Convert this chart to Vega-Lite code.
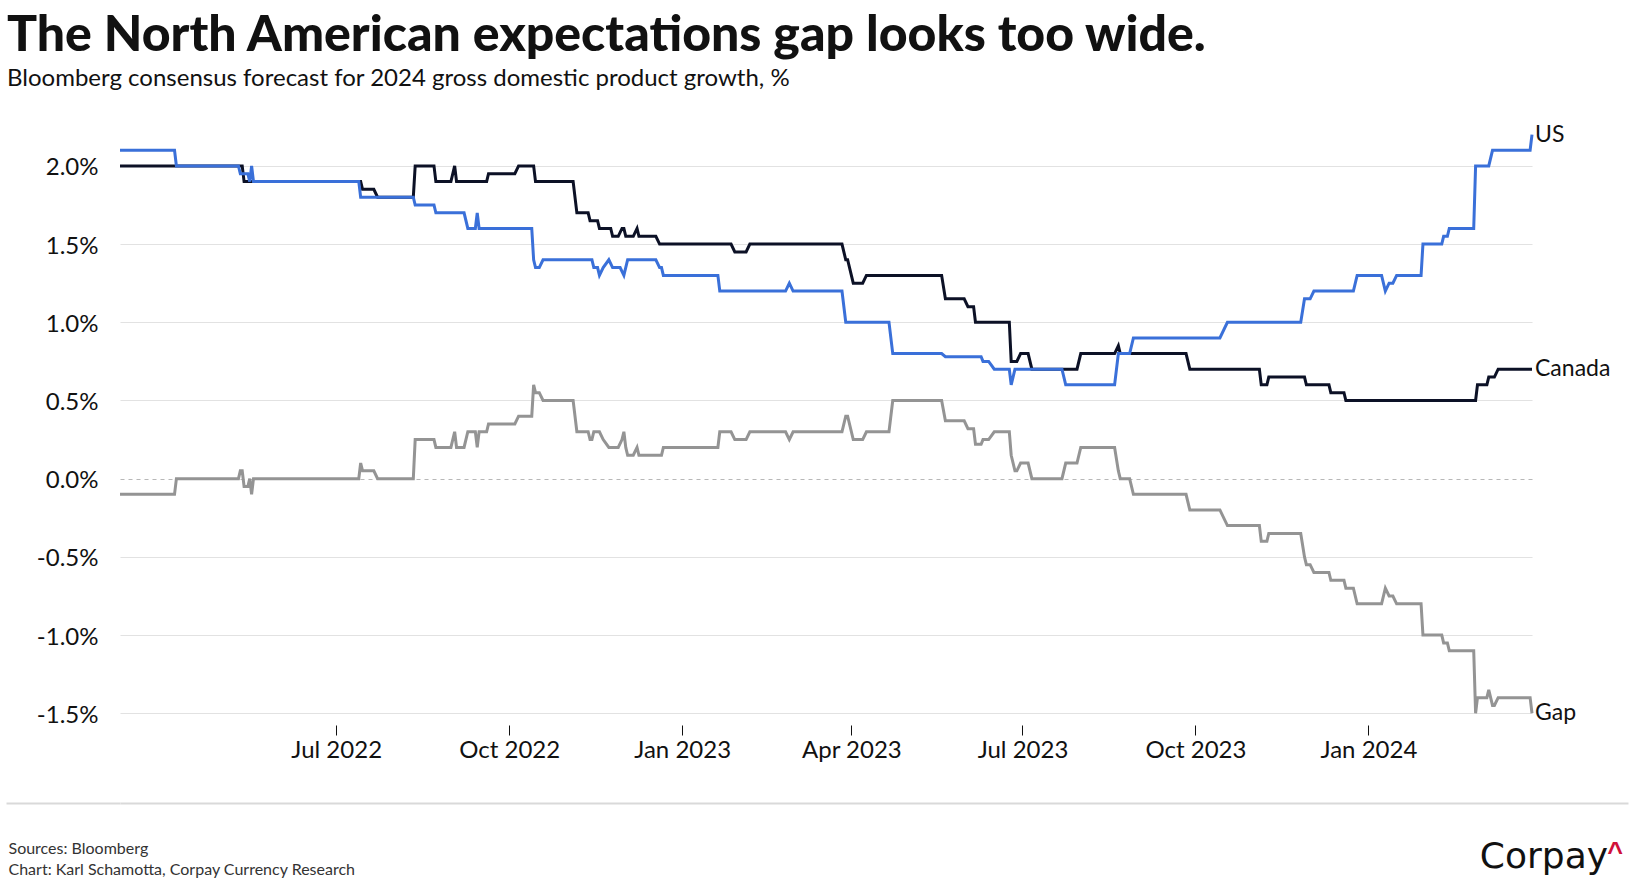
{
  "$schema": "https://vega.github.io/schema/vega-lite/v6.json",
  "padding": {"left": 5, "top": 11, "right": 3, "bottom": 8},
  "spacing": 40,
  "title": {
    "text": "The North American expectations gap looks too wide.",
    "subtitle": "Bloomberg consensus forecast for 2024 gross domestic product growth, %",
    "anchor": "start",
    "font": "Lato",
    "fontSize": 50,
    "fontWeight": 900,
    "color": "#111111",
    "subtitleFont": "Lato",
    "subtitleFontSize": 24,
    "subtitleColor": "#111111",
    "subtitlePadding": 6,
    "offset": 28,
    "dx": 2
  },
  "vconcat": [
    {
      "width": 1412,
      "height": 606,
      "data": {"values": [
        {"date":"2022-03-08","series":"Gap","value":-0.1},{"date":"2022-04-06","series":"Gap","value":-0.1},{"date":"2022-04-07","series":"Gap","value":0},{"date":"2022-05-10","series":"Gap","value":0},{"date":"2022-05-11","series":"Gap","value":0.05},{"date":"2022-05-12","series":"Gap","value":0.05},{"date":"2022-05-13","series":"Gap","value":-0.05},{"date":"2022-05-15","series":"Gap","value":-0.05},{"date":"2022-05-16","series":"Gap","value":0},{"date":"2022-05-17","series":"Gap","value":-0.1},{"date":"2022-05-18","series":"Gap","value":0},{"date":"2022-07-13","series":"Gap","value":0},{"date":"2022-07-14","series":"Gap","value":0.1},{"date":"2022-07-15","series":"Gap","value":0.05},{"date":"2022-07-21","series":"Gap","value":0.05},{"date":"2022-07-23","series":"Gap","value":0},{"date":"2022-08-11","series":"Gap","value":0},{"date":"2022-08-12","series":"Gap","value":0.25},{"date":"2022-08-22","series":"Gap","value":0.25},{"date":"2022-08-23","series":"Gap","value":0.2},{"date":"2022-08-31","series":"Gap","value":0.2},{"date":"2022-09-02","series":"Gap","value":0.3},{"date":"2022-09-03","series":"Gap","value":0.2},{"date":"2022-09-07","series":"Gap","value":0.2},{"date":"2022-09-09","series":"Gap","value":0.3},{"date":"2022-09-13","series":"Gap","value":0.3},{"date":"2022-09-14","series":"Gap","value":0.2},{"date":"2022-09-15","series":"Gap","value":0.3},{"date":"2022-09-19","series":"Gap","value":0.3},{"date":"2022-09-20","series":"Gap","value":0.35},{"date":"2022-10-04","series":"Gap","value":0.35},{"date":"2022-10-06","series":"Gap","value":0.4},{"date":"2022-10-13","series":"Gap","value":0.4},{"date":"2022-10-14","series":"Gap","value":0.6},{"date":"2022-10-15","series":"Gap","value":0.55},{"date":"2022-10-17","series":"Gap","value":0.55},{"date":"2022-10-19","series":"Gap","value":0.5},{"date":"2022-11-04","series":"Gap","value":0.5},{"date":"2022-11-06","series":"Gap","value":0.3},{"date":"2022-11-12","series":"Gap","value":0.3},{"date":"2022-11-13","series":"Gap","value":0.25},{"date":"2022-11-14","series":"Gap","value":0.25},{"date":"2022-11-15","series":"Gap","value":0.3},{"date":"2022-11-18","series":"Gap","value":0.3},{"date":"2022-11-20","series":"Gap","value":0.25},{"date":"2022-11-23","series":"Gap","value":0.2},{"date":"2022-11-28","series":"Gap","value":0.2},{"date":"2022-11-30","series":"Gap","value":0.25},{"date":"2022-12-01","series":"Gap","value":0.3},{"date":"2022-12-02","series":"Gap","value":0.2},{"date":"2022-12-03","series":"Gap","value":0.15},{"date":"2022-12-06","series":"Gap","value":0.15},{"date":"2022-12-08","series":"Gap","value":0.2},{"date":"2022-12-09","series":"Gap","value":0.15},{"date":"2022-12-21","series":"Gap","value":0.15},{"date":"2022-12-22","series":"Gap","value":0.2},{"date":"2023-01-20","series":"Gap","value":0.2},{"date":"2023-01-21","series":"Gap","value":0.3},{"date":"2023-01-27","series":"Gap","value":0.3},{"date":"2023-01-29","series":"Gap","value":0.25},{"date":"2023-02-04","series":"Gap","value":0.25},{"date":"2023-02-06","series":"Gap","value":0.3},{"date":"2023-02-25","series":"Gap","value":0.3},{"date":"2023-02-27","series":"Gap","value":0.25},{"date":"2023-03-01","series":"Gap","value":0.3},{"date":"2023-03-27","series":"Gap","value":0.3},{"date":"2023-03-29","series":"Gap","value":0.4},{"date":"2023-03-30","series":"Gap","value":0.4},{"date":"2023-04-02","series":"Gap","value":0.25},{"date":"2023-04-07","series":"Gap","value":0.25},{"date":"2023-04-09","series":"Gap","value":0.3},{"date":"2023-04-21","series":"Gap","value":0.3},{"date":"2023-04-23","series":"Gap","value":0.5},{"date":"2023-05-19","series":"Gap","value":0.5},{"date":"2023-05-21","series":"Gap","value":0.37},{"date":"2023-05-31","series":"Gap","value":0.37},{"date":"2023-06-02","series":"Gap","value":0.32},{"date":"2023-06-05","series":"Gap","value":0.32},{"date":"2023-06-06","series":"Gap","value":0.22},{"date":"2023-06-09","series":"Gap","value":0.22},{"date":"2023-06-10","series":"Gap","value":0.25},{"date":"2023-06-13","series":"Gap","value":0.25},{"date":"2023-06-16","series":"Gap","value":0.3},{"date":"2023-06-24","series":"Gap","value":0.3},{"date":"2023-06-25","series":"Gap","value":0.15},{"date":"2023-06-27","series":"Gap","value":0.05},{"date":"2023-06-28","series":"Gap","value":0.05},{"date":"2023-06-30","series":"Gap","value":0.1},{"date":"2023-07-04","series":"Gap","value":0.1},{"date":"2023-07-06","series":"Gap","value":0},{"date":"2023-07-22","series":"Gap","value":0},{"date":"2023-07-24","series":"Gap","value":0.1},{"date":"2023-07-30","series":"Gap","value":0.1},{"date":"2023-08-01","series":"Gap","value":0.2},{"date":"2023-08-19","series":"Gap","value":0.2},{"date":"2023-08-21","series":"Gap","value":0.05},{"date":"2023-08-22","series":"Gap","value":0},{"date":"2023-08-27","series":"Gap","value":0},{"date":"2023-08-29","series":"Gap","value":-0.1},{"date":"2023-09-26","series":"Gap","value":-0.1},{"date":"2023-09-28","series":"Gap","value":-0.2},{"date":"2023-10-14","series":"Gap","value":-0.2},{"date":"2023-10-18","series":"Gap","value":-0.3},{"date":"2023-11-04","series":"Gap","value":-0.3},{"date":"2023-11-05","series":"Gap","value":-0.4},{"date":"2023-11-08","series":"Gap","value":-0.4},{"date":"2023-11-09","series":"Gap","value":-0.35},{"date":"2023-11-26","series":"Gap","value":-0.35},{"date":"2023-11-28","series":"Gap","value":-0.5},{"date":"2023-11-29","series":"Gap","value":-0.55},{"date":"2023-12-01","series":"Gap","value":-0.55},{"date":"2023-12-03","series":"Gap","value":-0.6},{"date":"2023-12-11","series":"Gap","value":-0.6},{"date":"2023-12-12","series":"Gap","value":-0.65},{"date":"2023-12-19","series":"Gap","value":-0.65},{"date":"2023-12-20","series":"Gap","value":-0.7},{"date":"2023-12-24","series":"Gap","value":-0.7},{"date":"2023-12-26","series":"Gap","value":-0.8},{"date":"2024-01-08","series":"Gap","value":-0.8},{"date":"2024-01-10","series":"Gap","value":-0.7},{"date":"2024-01-12","series":"Gap","value":-0.75},{"date":"2024-01-14","series":"Gap","value":-0.75},{"date":"2024-01-16","series":"Gap","value":-0.8},{"date":"2024-01-29","series":"Gap","value":-0.8},{"date":"2024-01-30","series":"Gap","value":-1.0},{"date":"2024-02-09","series":"Gap","value":-1.0},{"date":"2024-02-10","series":"Gap","value":-1.05},{"date":"2024-02-12","series":"Gap","value":-1.05},{"date":"2024-02-13","series":"Gap","value":-1.1},{"date":"2024-02-26","series":"Gap","value":-1.1},{"date":"2024-02-27","series":"Gap","value":-1.5},{"date":"2024-02-28","series":"Gap","value":-1.4},{"date":"2024-03-04","series":"Gap","value":-1.4},{"date":"2024-03-05","series":"Gap","value":-1.35},{"date":"2024-03-06","series":"Gap","value":-1.4},{"date":"2024-03-07","series":"Gap","value":-1.45},{"date":"2024-03-08","series":"Gap","value":-1.45},{"date":"2024-03-10","series":"Gap","value":-1.4},{"date":"2024-03-27","series":"Gap","value":-1.4},{"date":"2024-03-28","series":"Gap","value":-1.5},
        {"date":"2022-03-08","series":"Canada","value":2.0},{"date":"2022-05-12","series":"Canada","value":2.0},{"date":"2022-05-13","series":"Canada","value":1.9},{"date":"2022-07-14","series":"Canada","value":1.9},{"date":"2022-07-15","series":"Canada","value":1.85},{"date":"2022-07-21","series":"Canada","value":1.85},{"date":"2022-07-23","series":"Canada","value":1.8},{"date":"2022-08-11","series":"Canada","value":1.8},{"date":"2022-08-12","series":"Canada","value":2.0},{"date":"2022-08-22","series":"Canada","value":2.0},{"date":"2022-08-23","series":"Canada","value":1.9},{"date":"2022-08-31","series":"Canada","value":1.9},{"date":"2022-09-02","series":"Canada","value":2.0},{"date":"2022-09-03","series":"Canada","value":1.9},{"date":"2022-09-19","series":"Canada","value":1.9},{"date":"2022-09-20","series":"Canada","value":1.95},{"date":"2022-10-04","series":"Canada","value":1.95},{"date":"2022-10-06","series":"Canada","value":2.0},{"date":"2022-10-14","series":"Canada","value":2.0},{"date":"2022-10-15","series":"Canada","value":1.9},{"date":"2022-11-04","series":"Canada","value":1.9},{"date":"2022-11-06","series":"Canada","value":1.7},{"date":"2022-11-12","series":"Canada","value":1.7},{"date":"2022-11-13","series":"Canada","value":1.65},{"date":"2022-11-17","series":"Canada","value":1.65},{"date":"2022-11-18","series":"Canada","value":1.6},{"date":"2022-11-24","series":"Canada","value":1.6},{"date":"2022-11-25","series":"Canada","value":1.55},{"date":"2022-11-28","series":"Canada","value":1.55},{"date":"2022-11-30","series":"Canada","value":1.6},{"date":"2022-12-01","series":"Canada","value":1.6},{"date":"2022-12-02","series":"Canada","value":1.55},{"date":"2022-12-06","series":"Canada","value":1.55},{"date":"2022-12-08","series":"Canada","value":1.6},{"date":"2022-12-09","series":"Canada","value":1.55},{"date":"2022-12-18","series":"Canada","value":1.55},{"date":"2022-12-20","series":"Canada","value":1.5},{"date":"2023-01-27","series":"Canada","value":1.5},{"date":"2023-01-29","series":"Canada","value":1.45},{"date":"2023-02-04","series":"Canada","value":1.45},{"date":"2023-02-06","series":"Canada","value":1.5},{"date":"2023-03-27","series":"Canada","value":1.5},{"date":"2023-03-29","series":"Canada","value":1.4},{"date":"2023-03-30","series":"Canada","value":1.4},{"date":"2023-04-02","series":"Canada","value":1.25},{"date":"2023-04-07","series":"Canada","value":1.25},{"date":"2023-04-09","series":"Canada","value":1.3},{"date":"2023-05-19","series":"Canada","value":1.3},{"date":"2023-05-21","series":"Canada","value":1.15},{"date":"2023-05-31","series":"Canada","value":1.15},{"date":"2023-06-02","series":"Canada","value":1.1},{"date":"2023-06-05","series":"Canada","value":1.1},{"date":"2023-06-06","series":"Canada","value":1.0},{"date":"2023-06-24","series":"Canada","value":1.0},{"date":"2023-06-25","series":"Canada","value":0.75},{"date":"2023-06-28","series":"Canada","value":0.75},{"date":"2023-06-30","series":"Canada","value":0.8},{"date":"2023-07-04","series":"Canada","value":0.8},{"date":"2023-07-06","series":"Canada","value":0.7},{"date":"2023-07-30","series":"Canada","value":0.7},{"date":"2023-08-01","series":"Canada","value":0.8},{"date":"2023-08-19","series":"Canada","value":0.8},{"date":"2023-08-21","series":"Canada","value":0.85},{"date":"2023-08-22","series":"Canada","value":0.8},{"date":"2023-09-26","series":"Canada","value":0.8},{"date":"2023-09-28","series":"Canada","value":0.7},{"date":"2023-11-04","series":"Canada","value":0.7},{"date":"2023-11-05","series":"Canada","value":0.6},{"date":"2023-11-08","series":"Canada","value":0.6},{"date":"2023-11-09","series":"Canada","value":0.65},{"date":"2023-11-28","series":"Canada","value":0.65},{"date":"2023-11-29","series":"Canada","value":0.6},{"date":"2023-12-11","series":"Canada","value":0.6},{"date":"2023-12-12","series":"Canada","value":0.55},{"date":"2023-12-19","series":"Canada","value":0.55},{"date":"2023-12-20","series":"Canada","value":0.5},{"date":"2024-02-27","series":"Canada","value":0.5},{"date":"2024-02-28","series":"Canada","value":0.6},{"date":"2024-03-04","series":"Canada","value":0.6},{"date":"2024-03-05","series":"Canada","value":0.65},{"date":"2024-03-08","series":"Canada","value":0.65},{"date":"2024-03-10","series":"Canada","value":0.7},{"date":"2024-03-28","series":"Canada","value":0.7},
        {"date":"2022-03-08","series":"US","value":2.1},{"date":"2022-04-06","series":"US","value":2.1},{"date":"2022-04-07","series":"US","value":2.0},{"date":"2022-05-10","series":"US","value":2.0},{"date":"2022-05-11","series":"US","value":1.95},{"date":"2022-05-15","series":"US","value":1.95},{"date":"2022-05-16","series":"US","value":1.9},{"date":"2022-05-17","series":"US","value":2.0},{"date":"2022-05-18","series":"US","value":1.9},{"date":"2022-07-13","series":"US","value":1.9},{"date":"2022-07-14","series":"US","value":1.8},{"date":"2022-08-11","series":"US","value":1.8},{"date":"2022-08-12","series":"US","value":1.75},{"date":"2022-08-22","series":"US","value":1.75},{"date":"2022-08-23","series":"US","value":1.7},{"date":"2022-09-07","series":"US","value":1.7},{"date":"2022-09-09","series":"US","value":1.6},{"date":"2022-09-13","series":"US","value":1.6},{"date":"2022-09-14","series":"US","value":1.7},{"date":"2022-09-15","series":"US","value":1.6},{"date":"2022-10-13","series":"US","value":1.6},{"date":"2022-10-14","series":"US","value":1.4},{"date":"2022-10-15","series":"US","value":1.35},{"date":"2022-10-17","series":"US","value":1.35},{"date":"2022-10-19","series":"US","value":1.4},{"date":"2022-11-14","series":"US","value":1.4},{"date":"2022-11-15","series":"US","value":1.35},{"date":"2022-11-17","series":"US","value":1.35},{"date":"2022-11-18","series":"US","value":1.3},{"date":"2022-11-20","series":"US","value":1.35},{"date":"2022-11-23","series":"US","value":1.4},{"date":"2022-11-25","series":"US","value":1.35},{"date":"2022-11-29","series":"US","value":1.35},{"date":"2022-12-01","series":"US","value":1.3},{"date":"2022-12-03","series":"US","value":1.4},{"date":"2022-12-18","series":"US","value":1.4},{"date":"2022-12-20","series":"US","value":1.35},{"date":"2022-12-21","series":"US","value":1.35},{"date":"2022-12-22","series":"US","value":1.3},{"date":"2023-01-20","series":"US","value":1.3},{"date":"2023-01-21","series":"US","value":1.2},{"date":"2023-02-25","series":"US","value":1.2},{"date":"2023-02-27","series":"US","value":1.25},{"date":"2023-03-01","series":"US","value":1.2},{"date":"2023-03-27","series":"US","value":1.2},{"date":"2023-03-29","series":"US","value":1.0},{"date":"2023-04-21","series":"US","value":1.0},{"date":"2023-04-23","series":"US","value":0.8},{"date":"2023-05-19","series":"US","value":0.8},{"date":"2023-05-21","series":"US","value":0.78},{"date":"2023-06-09","series":"US","value":0.78},{"date":"2023-06-10","series":"US","value":0.75},{"date":"2023-06-13","series":"US","value":0.75},{"date":"2023-06-16","series":"US","value":0.7},{"date":"2023-06-24","series":"US","value":0.7},{"date":"2023-06-25","series":"US","value":0.6},{"date":"2023-06-27","series":"US","value":0.7},{"date":"2023-07-22","series":"US","value":0.7},{"date":"2023-07-24","series":"US","value":0.6},{"date":"2023-08-19","series":"US","value":0.6},{"date":"2023-08-21","series":"US","value":0.8},{"date":"2023-08-27","series":"US","value":0.8},{"date":"2023-08-29","series":"US","value":0.9},{"date":"2023-10-14","series":"US","value":0.9},{"date":"2023-10-18","series":"US","value":1.0},{"date":"2023-11-26","series":"US","value":1.0},{"date":"2023-11-28","series":"US","value":1.15},{"date":"2023-12-01","series":"US","value":1.15},{"date":"2023-12-03","series":"US","value":1.2},{"date":"2023-12-24","series":"US","value":1.2},{"date":"2023-12-26","series":"US","value":1.3},{"date":"2024-01-08","series":"US","value":1.3},{"date":"2024-01-10","series":"US","value":1.2},{"date":"2024-01-12","series":"US","value":1.25},{"date":"2024-01-14","series":"US","value":1.25},{"date":"2024-01-16","series":"US","value":1.3},{"date":"2024-01-29","series":"US","value":1.3},{"date":"2024-01-30","series":"US","value":1.5},{"date":"2024-02-09","series":"US","value":1.5},{"date":"2024-02-10","series":"US","value":1.55},{"date":"2024-02-12","series":"US","value":1.55},{"date":"2024-02-13","series":"US","value":1.6},{"date":"2024-02-26","series":"US","value":1.6},{"date":"2024-02-27","series":"US","value":2.0},{"date":"2024-03-05","series":"US","value":2.0},{"date":"2024-03-07","series":"US","value":2.1},{"date":"2024-03-27","series":"US","value":2.1},{"date":"2024-03-28","series":"US","value":2.2}
      ]},
      "encoding": {
        "x": {
          "field": "date", "type": "temporal",
          "scale": {"type": "utc", "domain": [1646697600000, 1711584000000], "nice": false},
          "axis": {
            "values": [1656633600000, 1664582400000, 1672531200000, 1680307200000, 1688169600000, 1696118400000, 1704067200000],
            "labelExpr": "utcFormat(datum.value, '%b %Y')",
            "title": null, "grid": false, "domain": false,
            "ticks": true, "tickSize": 10, "tickColor": "#111111", "tickWidth": 1,
            "labelFont": "Lato", "labelFontSize": 24, "labelColor": "#111111", "labelPadding": 3
          }
        },
        "y": {
          "field": "value", "type": "quantitative",
          "scale": {"domain": [-1.575, 2.3], "nice": false, "zero": false},
          "axis": {
            "values": [-1.5, -1, -0.5, 0, 0.5, 1, 1.5, 2],
            "labelExpr": "(datum.value < 0 ? '-' : '') + format(abs(datum.value), '.1f') + '%'",
            "title": null, "domain": false, "ticks": false, "tickSize": 0,
            "labelPadding": 22, "minExtent": 114, "maxExtent": 114,
            "labelFont": "Lato", "labelFontSize": 24, "labelColor": "#111111", "labelOffset": 2,
            "grid": true,
            "gridColor": {"condition": {"test": "datum.value === 0", "value": "#b8b8b8"}, "value": "#e2e2e2"},
            "gridDash": {"condition": {"test": "datum.value === 0", "value": [4, 4]}, "value": []},
            "gridWidth": 1.2
          }
        },
        "color": {
          "field": "series", "type": "nominal",
          "scale": {"domain": ["US", "Canada", "Gap"], "range": ["#3a70d9", "#0c1126", "#949494"]},
          "legend": null
        }
      },
      "layer": [
        {"mark": {"type": "line", "strokeWidth": 3, "interpolate": "linear"}},
        {
          "transform": [
            {"window": [{"op": "row_number", "as": "rn"}], "groupby": ["series"], "sort": [{"field": "date", "order": "descending"}]},
            {"filter": "datum.rn === 1"}
          ],
          "mark": {"type": "text", "align": "left", "baseline": "middle", "dx": 3, "font": "Lato", "fontSize": 23},
          "encoding": {"text": {"field": "series"}, "color": {"value": "#111111"}}
        }
      ]
    },
    {
      "width": 1508,
      "height": 71,
      "data": {"values": [{"logo": "Corpay", "caret": "^"}]},
      "layer": [
        {
          "mark": {"type": "text", "align": "right", "baseline": "alphabetic", "dx": -20, "dy": -6, "font": "DejaVu Sans", "fontSize": 36, "color": "#111111"},
          "encoding": {
            "x": {"datum": 1, "type": "quantitative", "scale": {"domain": [0, 1]},
                  "axis": {"orient": "top", "domain": true, "domainColor": "#d9d9d9", "domainWidth": 2, "labels": false, "ticks": false, "grid": false, "title": null}},
            "y": {"datum": 0, "type": "quantitative", "scale": {"domain": [0, 1]},
                  "axis": {"orient": "left", "values": [1], "domain": false, "labels": false, "grid": false, "title": null,
                           "ticks": true, "tickSize": 114, "tickColor": "#d9d9d9", "tickWidth": 2, "minExtent": 114, "maxExtent": 114}},
            "text": {"field": "logo"}
          }
        },
        {
          "mark": {"type": "text", "align": "right", "baseline": "alphabetic", "dx": -5, "dy": -13, "font": "Liberation Sans", "fontWeight": "bold", "fontSize": 27, "color": "#d0103a"},
          "encoding": {
            "x": {"datum": 1, "type": "quantitative", "scale": {"domain": [0, 1]},
                  "axis": {"orient": "bottom", "domain": false, "labels": false, "ticks": false, "grid": false,
                           "title": ["Sources: Bloomberg", "Chart: Karl Schamotta, Corpay Currency Research"],
                           "titleX": -112, "titleY": -21, "titleAlign": "left", "titleAnchor": "start", "titleBaseline": "alphabetic",
                           "titleFont": "Lato", "titleFontSize": 16, "titleFontWeight": "normal", "titleColor": "#333333", "titleLineHeight": 21}},
            "y": {"datum": 0, "type": "quantitative", "scale": {"domain": [0, 1]}},
            "text": {"field": "caret"}
          }
        }
      ],
      "resolve": {"axis": {"x": "independent"}}
    }
  ],
  "config": {
    "view": {"stroke": null},
    "font": "Lato",
    "background": "white"
  }
}
